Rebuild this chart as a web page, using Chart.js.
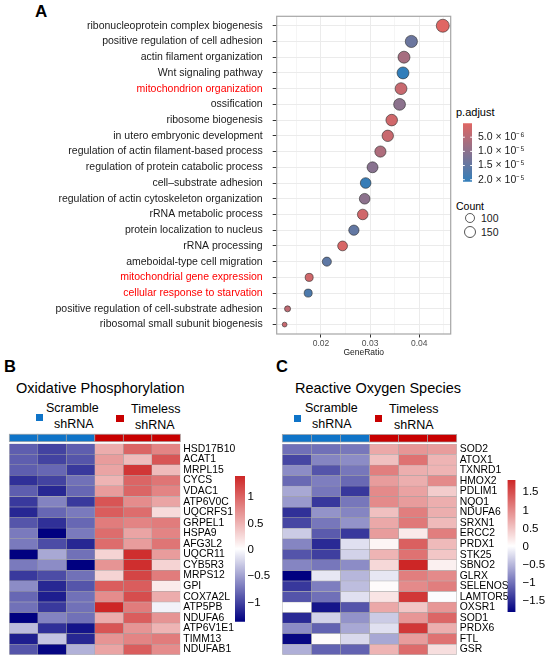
<!DOCTYPE html>
<html>
<head>
<meta charset="utf-8">
<script src="https://cdn.jsdelivr.net/npm/chart.js@4.4.1/dist/chart.umd.min.js"></script>
<style>
  body { margin: 0; background: #fff; font-family: 'Liberation Sans', Arial, Helvetica, sans-serif; }
  #fig { position: relative; width: 550px; height: 664px; overflow: hidden; background: #fff; }
  .box, .txt, .sq, .ring { position: absolute; }
  .txt { white-space: nowrap; line-height: 1; color: #000; }
  .letter { font-weight: bold; }
  .ring { box-sizing: border-box; border: 0.8px solid #555; border-radius: 50%; background: #fff; }
</style>
</head>
<body>
<div id="fig">
  <!-- panel letters and titles -->
  <div class="txt letter" style="left:35px; top:3px; font-size:17px;">A</div>
  <div class="txt letter" style="left:4px; top:358px; font-size:16.5px;">B</div>
  <div class="txt letter" style="left:276px; top:358px; font-size:16.5px;">C</div>
  <div class="txt" style="left:16px; top:381px; font-size:14.5px;">Oxidative Phosphorylation</div>
  <div class="txt" style="left:295px; top:381px; font-size:14.5px;">Reactive Oxygen Species</div>

  <!-- group legends -->
  <div class="sq" style="left:36px; top:414px; width:7px; height:7px; background:#0f74c8;"></div>
  <div class="txt" style="left:46px; top:402px; font-size:12.5px;">Scramble</div>
  <div class="txt" style="left:54px; top:418px; font-size:12.5px;">shRNA</div>
  <div class="sq" style="left:116px; top:415px; width:8px; height:7px; background:#c80000;"></div>
  <div class="txt" style="left:131px; top:403px; font-size:12.5px;">Timeless</div>
  <div class="txt" style="left:135px; top:419px; font-size:12.5px;">shRNA</div>

  <div class="sq" style="left:294px; top:415px; width:7px; height:7px; background:#0f74c8;"></div>
  <div class="txt" style="left:305px; top:402px; font-size:12.5px;">Scramble</div>
  <div class="txt" style="left:312px; top:418px; font-size:12.5px;">shRNA</div>
  <div class="sq" style="left:375px; top:415px; width:7px; height:7px; background:#c80000;"></div>
  <div class="txt" style="left:389px; top:403px; font-size:12.5px;">Timeless</div>
  <div class="txt" style="left:394px; top:419px; font-size:12.5px;">shRNA</div>

  <!-- panel A legend titles -->
  <div class="txt" style="left:456px; top:107px; font-size:11px;">p.adjust</div>
  <div class="txt" style="left:456px; top:201px; font-size:10.5px;">Count</div>
  <div id="countKey"></div>

  <div class="box" style="left:0; top:0; width:455px; height:360px;"><canvas id="dotplot"></canvas></div>
  <div class="box" style="left:453px; top:111px; width:97px; height:83px;"><canvas id="pBar"></canvas></div>

  <div class="box" style="left:0; top:430px; width:250px; height:234px;"><canvas id="oxphos"></canvas></div>
  <div class="box" style="left:225px; top:466px; width:50px; height:166px;"><canvas id="oxphosBar"></canvas></div>
  <div class="box" style="left:275px; top:430px; width:250px; height:234px;"><canvas id="ros"></canvas></div>
  <div class="box" style="left:497px; top:466px; width:53px; height:160px;"><canvas id="rosBar"></canvas></div>
</div>

<script>
// ---- Panel A: GO enrichment dot plot ----
const goTerms = [
    'ribonucleoprotein complex biogenesis',
    'positive regulation of cell adhesion',
    'actin filament organization',
    'Wnt signaling pathway',
    'mitochondrion organization',
    'ossification',
    'ribosome biogenesis',
    'in utero embryonic development',
    'regulation of actin filament-based process',
    'regulation of protein catabolic process',
    'cell\u2013substrate adhesion',
    'regulation of actin cytoskeleton organization',
    'rRNA metabolic process',
    'protein localization to nucleus',
    'rRNA processing',
    'ameboidal-type cell migration',
    'mitochondrial gene expression',
    'cellular response to starvation',
    'positive regulation of cell-substrate adhesion',
    'ribosomal small subunit biogenesis'
];
const highlightTerms = ['mitochondrion organization', 'mitochondrial gene expression', 'cellular response to starvation'];
const geneRatio = [0.0448, 0.0384, 0.0369, 0.0367, 0.0363, 0.0360, 0.0344, 0.0336, 0.0321, 0.0305,
                   0.0291, 0.0289, 0.0285, 0.0267, 0.0244, 0.0212, 0.0176, 0.0174, 0.0132, 0.0126];
const geneCount = [179, 154, 148, 147, 145, 144, 138, 134, 128, 122,
                   116, 116, 114, 107, 98, 85, 70, 70, 53, 50];
const pAdjust = [1e-7, 1.4e-5, 7e-6, 2.07e-5, 3e-6, 1.0e-5, 2e-6, 3e-6, 6e-6, 1.05e-5,
                 2.0e-5, 1.0e-5, 2e-6, 1.5e-5, 1e-6, 1.55e-5, 2e-6, 1.75e-5, 4e-6, 3e-6];
const ratioTicks = [0.02, 0.03, 0.04];
const pTicks = [5e-6, 1e-5, 1.5e-5, 2e-5];
const pTickLabels = ['5.0 \u00d7 10\u207b\u2076', '1.0 \u00d7 10\u207b\u2075', '1.5 \u00d7 10\u207b\u2075', '2.0 \u00d7 10\u207b\u2075'];
const countTicks = [100, 150];

// ---- Panels B / C: heatmaps (z-scores) ----
const sampleGroups = ['Scramble shRNA', 'Scramble shRNA', 'Scramble shRNA', 'Timeless shRNA', 'Timeless shRNA', 'Timeless shRNA'];
const oxphosGenes = ['HSD17B10', 'ACAT1', 'MRPL15', 'CYCS', 'VDAC1', 'ATP6V0C', 'UQCRFS1', 'GRPEL1', 'HSPA9', 'AFG3L2',
                     'UQCR11', 'CYB5R3', 'MRPS12', 'GPI', 'COX7A2L', 'ATP5PB', 'NDUFA6', 'ATP6V1E1', 'TIMM13', 'NDUFAB1'];
const oxphosZ = [
    [-0.85, -1.0, -0.85, 0.55, 1.0, 0.8],
    [-0.85, -1.0, -0.9, 0.65, 0.45, 1.1],
    [-0.85, -0.8, -1.05, 0.6, 1.3, 0.45],
    [-1.1, -1.0, -0.75, 0.5, 1.0, 0.9],
    [-0.85, -1.15, -0.8, 0.65, 1.0, 0.8],
    [-1.05, -0.65, -1.05, 1.1, 0.75, 0.6],
    [-1.15, -0.8, -0.7, 1.05, 0.95, 0.25],
    [-0.9, -1.1, -0.8, 0.85, 0.8, 0.85],
    [-0.7, -1.36, -0.7, 0.95, 0.6, 0.8],
    [-0.7, -0.95, -1.15, 0.95, 0.65, 0.9],
    [-1.36, -0.45, -0.75, 0.3, 1.35, 0.65],
    [-0.7, -0.6, -1.36, 0.7, 1.35, 0.3],
    [-1.05, -0.95, -0.75, 0.3, 1.2, 0.85],
    [-0.6, -1.15, -0.9, 1.05, 1.05, 0.15],
    [-0.8, -1.2, -0.75, 0.75, 1.15, 0.55],
    [-0.75, -1.05, -0.75, 1.40, 0.85, -0.05],
    [-1.36, -0.65, -0.75, 0.55, 1.05, 0.7],
    [-0.35, -1.1, -1.25, 1.1, 0.7, 0.5],
    [-1.2, -0.3, -1.15, 0.7, 0.8, 0.85],
    [-0.9, -1.33, -0.4, 0.6, 1.05, 0.75]
];
const oxphosTicks = [1, 0.5, 0, -0.5, -1];

const rosGenes = ['SOD2', 'ATOX1', 'TXNRD1', 'HMOX2', 'PDLIM1', 'NQO1', 'NDUFA6', 'SRXN1', 'ERCC2', 'PRDX1',
                  'STK25', 'SBNO2', 'GLRX', 'SELENOS', 'LAMTOR5', 'OXSR1', 'SOD1', 'PRDX6', 'FTL', 'GSR'];
const rosZ = [
    [-1.0, -1.0, -0.95, 0.75, 0.9, 0.85],
    [-1.3, -0.85, -0.8, 0.55, 1.2, 0.65],
    [-0.8, -1.2, -0.95, 1.1, 0.7, 0.65],
    [-1.05, -0.9, -1.05, 0.85, 0.7, 1.0],
    [-0.6, -0.95, -1.4, 1.0, 0.8, 0.45],
    [-0.7, -1.4, -0.95, 1.0, 0.85, 0.7],
    [-1.45, -0.75, -0.85, 0.55, 1.1, 0.7],
    [-1.3, -0.95, -0.75, 0.75, 1.15, 0.6],
    [-0.35, -1.15, -1.4, 0.85, 0.2, 1.1],
    [-0.85, -1.5, -0.2, 0.1, 1.35, 0.6],
    [-1.2, -1.35, -0.3, 0.65, 1.2, 0.5],
    [-0.85, -0.95, -0.8, 0.35, 1.84, 0.15],
    [-1.80, -0.15, -0.5, -0.15, 1.1, 1.0],
    [-1.4, -0.9, -0.45, 0.05, 1.0, 1.1],
    [-1.2, -1.0, -0.2, 0.25, 1.7, 0.0],
    [0.02, -1.65, -1.2, 0.75, 0.5, 0.9],
    [-1.5, -0.3, -0.75, -0.35, 0.9, 1.3],
    [-0.8, -1.1, -0.6, -0.2, 1.7, 0.7],
    [-1.75, 0.05, -0.25, -0.6, 0.85, 1.2],
    [-0.55, -1.1, -1.1, 0.65, 1.25, 0.3]
];
const rosTicks = [1.5, 1, 0.5, 0, -0.5, -1, -1.5];

// ---- shared settings ----
Chart.defaults.font.family = "'Liberation Sans', Arial, Helvetica, sans-serif";
Chart.defaults.color = '#000';
Chart.defaults.animation = false;
Chart.defaults.responsive = true;
Chart.defaults.maintainAspectRatio = false;
Chart.defaults.layout.autoPadding = false;
Chart.defaults.plugins.legend.display = false;
Chart.defaults.plugins.tooltip.enabled = false;

const groupColors = { 'Scramble shRNA': '#0f74c8', 'Timeless shRNA': '#c80000' };
const cellBorder = '#a3a3a3';

function mix(a, b, t) {
    t = Math.min(1, Math.max(0, t));
    const c = a.map((v, i) => Math.round(v + (b[i] - v) * t));
    return `rgb(${c[0]}, ${c[1]}, ${c[2]})`;
}

const NAVY = [0, 0, 128], WHITE = [255, 255, 255], FIREBRICK = [205, 38, 38];
function heatColor(v, lo, hi) {
    const t = (v - lo) / (hi - lo);
    return t < 0.5 ? mix(NAVY, WHITE, t / 0.5) : mix(WHITE, FIREBRICK, (t - 0.5) / 0.5);
}

const P_LOW = [224, 102, 99], P_HIGH = [50, 126, 186];
const pMin = Math.min(...pAdjust), pMax = Math.max(...pAdjust);
const pColor = p => mix(P_LOW, P_HIGH, (p - pMin) / (pMax - pMin));

const cMin = Math.min(...geneCount), cMax = Math.max(...geneCount);
const dotRadius = c => 2.4 + 4.1 * Math.sqrt(Math.max(0, (c - cMin) / (cMax - cMin)));

const near = (a, b) => Math.abs(a - b) < 1e-9;

// strokes the full panel border (ggplot theme_bw style)
const panelBorder = {
    id: 'panelBorder',
    afterDraw(chart, args, opts) {
        const { ctx, chartArea: a } = chart;
        ctx.save();
        ctx.strokeStyle = opts.color || '#a6a6a6';
        ctx.lineWidth = opts.width || 1;
        ctx.strokeRect(a.left, a.top, a.right - a.left, a.bottom - a.top);
        ctx.restore();
    }
};

// ---- Panel A chart ----
const ratioSpan = Math.max(...geneRatio) - Math.min(...geneRatio);
const ratioMin = Math.min(...geneRatio) - ratioSpan * 0.05;
const ratioMax = Math.max(...geneRatio) + ratioSpan * 0.05;
const ratioGrid = [ratioTicks[0] - 0.005, ...ratioTicks.flatMap(v => [v, v + 0.005])];

new Chart(document.getElementById('dotplot'), {
    type: 'scatter',
    data: {
        datasets: [{
            data: goTerms.map((t, i) => ({ x: geneRatio[i], y: i + 1 })),
            pointRadius: ctx => dotRadius(geneCount[ctx.dataIndex]),
            pointBackgroundColor: pAdjust.map(pColor),
            pointBorderColor: 'rgba(40, 40, 40, 0.85)',
            pointBorderWidth: 0.7
        }]
    },
    options: {
        layout: { padding: { top: 13.8, right: 4.3, left: 0, bottom: 0 } },
        scales: {
            x: {
                type: 'linear',
                min: ratioMin,
                max: ratioMax,
                afterBuildTicks: s => { s.ticks = ratioGrid.map(v => ({ value: v })); },
                afterFit: s => { s.height = 26; },
                ticks: {
                    autoSkip: false,
                    maxRotation: 0,
                    padding: 1,
                    color: '#4d4d4d',
                    font: { size: 8.5 },
                    callback: v => ratioTicks.some(t => near(t, v)) ? v.toFixed(2) : ''
                },
                grid: {
                    color: '#ebebeb',
                    lineWidth: ctx => ratioTicks.some(t => near(t, ctx.tick.value)) ? 1 : 0.5,
                    tickLength: 3.5,
                    tickColor: ctx => ratioTicks.some(t => near(t, ctx.tick.value)) ? '#333' : 'rgba(0,0,0,0)'
                },
                border: { display: false },
                title: { display: true, text: 'GeneRatio', color: '#1a1a1a', font: { size: 8.5 }, padding: { top: 0, bottom: 2 } }
            },
            y: {
                type: 'linear',
                reverse: true,
                min: 0.4,
                max: goTerms.length + 0.6,
                afterBuildTicks: s => { s.ticks = goTerms.map((t, i) => ({ value: i + 1 })); },
                afterFit: s => { s.width = 276.7; },
                ticks: {
                    autoSkip: false,
                    padding: 10,
                    font: { size: 10.5 },
                    color: ctx => highlightTerms.includes(goTerms[ctx.tick.value - 1]) ? '#ff0000' : '#1a1a1a',
                    callback: v => goTerms[v - 1]
                },
                grid: { color: '#ebebeb', lineWidth: 1, tickLength: 4, tickColor: '#333' },
                border: { display: false }
            }
        },
        plugins: { panelBorder: { color: '#a6a6a6', width: 1.2 } }
    },
    plugins: [panelBorder]
});

// ---- Count legend (open circles sized like the dots) ----
const countKey = document.getElementById('countKey');
countTicks.forEach((c, i) => {
    const r = dotRadius(c);
    const cy = 218 + i * 14;
    const ring = document.createElement('div');
    ring.className = 'ring';
    Object.assign(ring.style, { left: (470 - r) + 'px', top: (cy - r) + 'px', width: 2 * r + 'px', height: 2 * r + 'px' });
    const label = document.createElement('div');
    label.className = 'txt';
    label.textContent = String(c);
    Object.assign(label.style, { left: '481px', top: (cy - 5.2) + 'px', fontSize: '10.5px', color: '#1a1a1a' });
    countKey.append(ring, label);
});

// ---- colour bars ----
function gradientFill(chart, lo, hi, colorAt) {
    const { ctx, chartArea, scales } = chart;
    if (!chartArea) return null;
    const y = scales.y;
    const top = chartArea.top, bottom = chartArea.bottom;
    const g = ctx.createLinearGradient(0, top, 0, bottom);
    const steps = 40;
    for (let i = 0; i <= steps; i++) {
        const v = lo + (hi - lo) * i / steps;
        const pos = (y.getPixelForValue(v) - top) / (bottom - top);
        g.addColorStop(Math.min(1, Math.max(0, pos)), colorAt(v));
    }
    return g;
}

const whiteTicks = {
    id: 'whiteTicks',
    afterDatasetsDraw(chart, args, opts) {
        if (!opts.values) return;
        const { ctx, chartArea: a, scales } = chart;
        const w = (a.right - a.left) / 5;
        ctx.save();
        ctx.strokeStyle = '#fff';
        ctx.lineWidth = 1;
        opts.values.forEach(v => {
            const py = scales.y.getPixelForValue(v);
            ctx.beginPath();
            ctx.moveTo(a.left, py); ctx.lineTo(a.left + w, py);
            ctx.moveTo(a.right - w, py); ctx.lineTo(a.right, py);
            ctx.stroke();
        });
        ctx.restore();
    }
};

function colorBar(id, cfg) {
    new Chart(document.getElementById(id), {
        type: 'bar',
        data: {
            labels: [''],
            datasets: [{
                data: [[cfg.lo, cfg.hi]],
                backgroundColor: ctx => gradientFill(ctx.chart, cfg.lo, cfg.hi, cfg.colorAt),
                borderWidth: 0,
                barPercentage: 1,
                categoryPercentage: 1
            }]
        },
        options: {
            layout: { padding: cfg.padding },
            scales: {
                x: { display: false },
                y: {
                    type: 'linear',
                    position: 'right',
                    reverse: !!cfg.reverse,
                    min: cfg.lo,
                    max: cfg.hi,
                    afterBuildTicks: s => { s.ticks = cfg.ticks.map(v => ({ value: v })); },
                    afterFit: s => { s.width = cfg.axisWidth; },
                    ticks: {
                        autoSkip: false,
                        padding: cfg.labelPad,
                        color: cfg.labelColor || '#000',
                        font: { size: cfg.fontSize },
                        callback: cfg.format
                    },
                    grid: { display: false, drawTicks: false },
                    border: { display: false }
                }
            },
            plugins: { whiteTicks: { values: cfg.whiteTicks } }
        },
        plugins: [whiteTicks]
    });
}

colorBar('pBar', {
    lo: pMin, hi: pMax, reverse: true,
    colorAt: pColor,
    ticks: pTicks,
    format: v => pTickLabels[pTicks.findIndex(t => near(t, v))],
    padding: { left: 10, top: 10, bottom: 9, right: 0 },
    axisWidth: 78, labelPad: 6, fontSize: 10.5, labelColor: '#1a1a1a',
    whiteTicks: pTicks
});

// ---- heatmaps ----
const groupStrip = {
    id: 'groupStrip',
    afterDatasetsDraw(chart) {
        const { ctx, chartArea: a, scales } = chart;
        ctx.save();
        sampleGroups.forEach((g, col) => {
            const x0 = scales.x.getPixelForValue(col);
            const x1 = scales.x.getPixelForValue(col + 1);
            ctx.fillStyle = groupColors[g];
            ctx.fillRect(x0, a.top - 9.5, x1 - x0, 7.5);
            ctx.strokeStyle = cellBorder;
            ctx.lineWidth = 0.7;
            ctx.strokeRect(x0, a.top - 9.5, x1 - x0, 7.5);
        });
        ctx.restore();
    }
};

function zRange(z) {
    const flat = z.flat();
    return [Math.min(...flat), Math.max(...flat)];
}

function heatmap(id, genes, z, cfg) {
    const [lo, hi] = zRange(z);
    const datasets = sampleGroups.map((g, col) => ({
        label: g,
        data: genes.map(() => 1),
        backgroundColor: z.map(row => heatColor(row[col], lo, hi)),
        borderColor: cellBorder,
        borderWidth: 0.5,
        borderSkipped: false,
        barPercentage: 1,
        categoryPercentage: 1
    }));
    new Chart(document.getElementById(id), {
        type: 'bar',
        data: { labels: genes, datasets },
        options: {
            indexAxis: 'y',
            layout: { padding: cfg.padding },
            scales: {
                x: { display: false, stacked: true, min: 0, max: sampleGroups.length },
                y: {
                    stacked: true,
                    position: 'right',
                    afterFit: s => { s.width = cfg.axisWidth; },
                    ticks: { autoSkip: false, padding: 3, color: '#000', font: { size: 10.4 } },
                    grid: { display: false, drawTicks: false },
                    border: { display: false }
                }
            }
        },
        plugins: [groupStrip]
    });
    colorBar(cfg.barId, {
        lo, hi,
        colorAt: v => heatColor(v, lo, hi),
        ticks: cfg.ticks,
        format: v => String(v).replace('-', '\u2212'),
        padding: cfg.barPadding,
        axisWidth: cfg.barAxisWidth, labelPad: cfg.barLabelPad, fontSize: 11.5
    });
}

heatmap('oxphos', oxphosGenes, oxphosZ, {
    padding: { left: 9.3, top: 13.7, bottom: 7.3, right: 0 },
    axisWidth: 69.7,
    barId: 'oxphosBar', ticks: oxphosTicks,
    barPadding: { left: 10, top: 10, bottom: 10.3, right: 0 },
    barAxisWidth: 30, barLabelPad: 2.5
});

heatmap('ros', rosGenes, rosZ, {
    padding: { left: 7.3, top: 14, bottom: 7.3, right: 0 },
    axisWidth: 68.3,
    barId: 'rosBar', ticks: rosTicks,
    barPadding: { left: 10.5, top: 10, bottom: 9.3, right: 0 },
    barAxisWidth: 34.5, barLabelPad: 7
});
</script>
</body>
</html>
